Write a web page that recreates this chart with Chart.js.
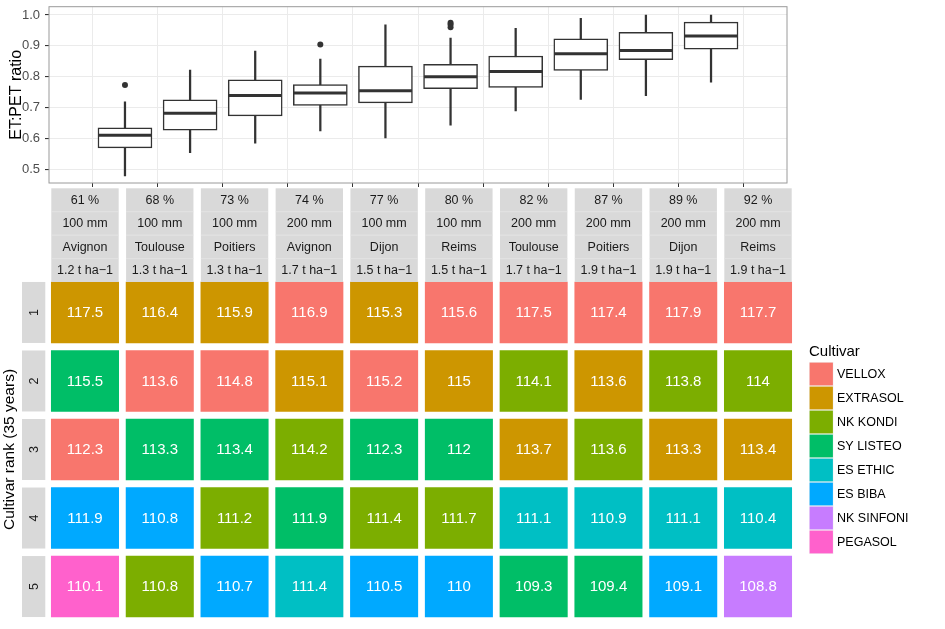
<!DOCTYPE html>
<html>
<head>
<meta charset="utf-8">
<script src="https://cdn.jsdelivr.net/npm/chart.js@4/dist/chart.umd.min.js"></script>
<style>
  html, body { margin: 0; padding: 0; background: #fff; }
  #wrap { position: relative; width: 945px; height: 629px; }
  #wrap canvas { position: absolute; left: 0; top: 0; }
</style>
</head>
<body>
<div id="wrap">
  <canvas id="boxChart" width="945" height="629"></canvas>
  <canvas id="rankChart" width="945" height="629"></canvas>
</div>
<script>
// strip labels, one entry per column
let ratioLabels = ['61 %', '68 %', '73 %', '74 %', '77 %', '80 %', '82 %', '87 %', '89 %', '92 %'];
let irrigationLabels = ['100 mm', '100 mm', '100 mm', '200 mm', '100 mm', '100 mm', '200 mm', '200 mm', '200 mm', '200 mm'];
let siteLabels = ['Avignon', 'Toulouse', 'Poitiers', 'Avignon', 'Dijon', 'Reims', 'Toulouse', 'Poitiers', 'Dijon', 'Reims'];
let yieldLabels = ['1.2 t ha\u22121', '1.3 t ha\u22121', '1.3 t ha\u22121', '1.7 t ha\u22121', '1.5 t ha\u22121',
                   '1.5 t ha\u22121', '1.7 t ha\u22121', '1.9 t ha\u22121', '1.9 t ha\u22121', '1.9 t ha\u22121'];

// ET:PET boxplot statistics per column
let whiskerLow  = [0.478, 0.553, 0.584, 0.624, 0.601, 0.643, 0.689, 0.726, 0.738, 0.782];
let lowerQuart  = [0.569, 0.626, 0.673, 0.707, 0.715, 0.761, 0.765, 0.820, 0.855, 0.889];
let medians     = [0.610, 0.681, 0.739, 0.747, 0.754, 0.800, 0.817, 0.874, 0.885, 0.932];
let upperQuart  = [0.634, 0.725, 0.790, 0.774, 0.834, 0.840, 0.867, 0.923, 0.944, 0.977];
let whiskerHigh = [0.718, 0.821, 0.883, 0.857, 0.968, 0.925, 0.957, 0.989, 1.000, 1.000];
let outlierColumn = [0, 3, 5, 5, 5];
let outlierValue  = [0.773, 0.904, 0.975, 0.969, 0.960];
let ratioTicks = [0.5, 0.6, 0.7, 0.8, 0.9, 1.0];

// cultivar rank table
let ranks = ['1', '2', '3', '4', '5'];
let rank1Values = [117.5, 116.4, 115.9, 116.9, 115.3, 115.6, 117.5, 117.4, 117.9, 117.7];
let rank2Values = [115.5, 113.6, 114.8, 115.1, 115.2, 115, 114.1, 113.6, 113.8, 114];
let rank3Values = [112.3, 113.3, 113.4, 114.2, 112.3, 112, 113.7, 113.6, 113.3, 113.4];
let rank4Values = [111.9, 110.8, 111.2, 111.9, 111.4, 111.7, 111.1, 110.9, 111.1, 110.4];
let rank5Values = [110.1, 110.8, 110.7, 111.4, 110.5, 110, 109.3, 109.4, 109.1, 108.8];
let rank1Cultivars = ['EXTRASOL', 'EXTRASOL', 'EXTRASOL', 'VELLOX', 'EXTRASOL', 'VELLOX', 'VELLOX', 'VELLOX', 'VELLOX', 'VELLOX'];
let rank2Cultivars = ['SY LISTEO', 'VELLOX', 'VELLOX', 'EXTRASOL', 'VELLOX', 'EXTRASOL', 'NK KONDI', 'EXTRASOL', 'NK KONDI', 'NK KONDI'];
let rank3Cultivars = ['VELLOX', 'SY LISTEO', 'SY LISTEO', 'NK KONDI', 'SY LISTEO', 'SY LISTEO', 'EXTRASOL', 'NK KONDI', 'EXTRASOL', 'EXTRASOL'];
let rank4Cultivars = ['ES BIBA', 'ES BIBA', 'NK KONDI', 'SY LISTEO', 'NK KONDI', 'NK KONDI', 'ES ETHIC', 'ES ETHIC', 'ES ETHIC', 'ES ETHIC'];
let rank5Cultivars = ['PEGASOL', 'NK KONDI', 'ES BIBA', 'ES ETHIC', 'ES BIBA', 'ES BIBA', 'SY LISTEO', 'SY LISTEO', 'ES BIBA', 'NK SINFONI'];

let cultivars = ['VELLOX', 'EXTRASOL', 'NK KONDI', 'SY LISTEO', 'ES ETHIC', 'ES BIBA', 'NK SINFONI', 'PEGASOL'];
let cultivarColors = ['#F8766D', '#CD9600', '#7CAE00', '#00BE67', '#00BFC4', '#00A9FF', '#C77CFF', '#FF61CC'];

const FONT = 'Liberation Sans, Arial, Helvetica, sans-serif';
const DARK = '#333333';

// ---------- top panel: boxplots ----------
let columnIdx = medians.map((m, i) => i);

let medianPlugin = {
    id: 'medianLines',
    afterDatasetsDraw(chart) {
        let ctx = chart.ctx;
        let y = chart.scales.y;
        let boxes = chart.getDatasetMeta(0).data;
        ctx.save();
        ctx.strokeStyle = DARK;
        ctx.lineWidth = 3;
        boxes.forEach((el, i) => {
            let py = y.getPixelForValue(medians[i]);
            ctx.beginPath();
            ctx.moveTo(el.x - el.width / 2 + 0.5, py);
            ctx.lineTo(el.x + el.width / 2 - 0.5, py);
            ctx.stroke();
        });
        let a = chart.chartArea;
        ctx.strokeStyle = '#9a9a9a';
        ctx.lineWidth = 1;
        ctx.strokeRect(a.left, a.top, a.right - a.left, a.bottom - a.top);
        ctx.restore();
    }
};

new Chart(document.getElementById('boxChart'), {
    type: 'bar',
    data: {
        datasets: [{
            label: 'box',
            data: columnIdx.map(i => ({x: i, y: [lowerQuart[i], upperQuart[i]]})),
            backgroundColor: '#ffffff',
            borderColor: DARK,
            borderWidth: 1.5,
            borderSkipped: false,
            barThickness: 54,
            grouped: false
        }, {
            label: 'whisker',
            data: columnIdx.map(i => ({x: i, y: [whiskerLow[i], whiskerHigh[i]]})),
            backgroundColor: DARK,
            borderWidth: 0,
            barThickness: 1.6,
            grouped: false
        }, {
            type: 'scatter',
            label: 'outliers',
            data: outlierColumn.map((c, k) => ({x: c, y: outlierValue[k]})),
            backgroundColor: DARK,
            borderColor: DARK,
            pointRadius: 3,
            borderWidth: 0
        }]
    },
    options: {
        responsive: false,
        animation: false,
        layout: {padding: {top: 6.7, right: 158, bottom: 439, left: 0}},
        plugins: {legend: {display: false}, tooltip: {enabled: false}},
        scales: {
            x: {
                type: 'linear',
                min: -0.6,
                max: 9.6,
                afterBuildTicks: s => { s.ticks = columnIdx.map(v => ({value: v})); },
                afterFit: s => { s.height = 7; s.paddingLeft = 0; s.paddingRight = 0; },
                ticks: {display: false},
                grid: {color: '#ebebeb', lineWidth: 1, tickColor: DARK, tickLength: 4, drawTicks: true},
                border: {display: false}
            },
            y: {
                min: 0.455,
                max: 1.027,
                afterBuildTicks: s => {
                    let t = [];
                    ratioTicks.forEach(v => { t.push({value: v}); if (v < 1) t.push({value: v + 0.05, minor: true}); });
                    s.ticks = t;
                },
                afterFit: s => { s.width = 49; s.paddingTop = 0; s.paddingBottom = 0; },
                ticks: {
                    font: {family: FONT, size: 13},
                    color: '#4d4d4d',
                    padding: 5,
                    callback: function (v, i, ticks) { return ticks[i].minor ? '' : v.toFixed(1); }
                },
                grid: {
                    color: c => (c.tick && c.tick.minor) ? '#f5f5f5' : '#ebebeb',
                    lineWidth: c => (c.tick && c.tick.minor) ? 0.6 : 1.1,
                    tickColor: c => (c.tick && c.tick.minor) ? 'rgba(0,0,0,0)' : DARK,
                    tickLength: 4
                },
                border: {display: false},
                title: {display: true, text: 'ET:PET ratio', font: {family: FONT, size: 16}, color: '#000', padding: {top: 7, bottom: 0}}
            }
        }
    },
    plugins: [medianPlugin]
});

// ---------- bottom panel: cultivar ranks ----------
let rankValues = [rank1Values, rank2Values, rank3Values, rank4Values, rank5Values];
let rankCultivars = [rank1Cultivars, rank2Cultivars, rank3Cultivars, rank4Cultivars, rank5Cultivars];
const GAP = 0.0495;

function colorOf(name) { return cultivarColors[cultivars.indexOf(name)]; }

let rankDatasets = siteLabels.map((s, i) => ({
    label: s,
    data: ranks.map(() => [i + GAP, i + 1 - GAP]),
    backgroundColor: ranks.map((r, k) => colorOf(rankCultivars[k][i])),
    borderWidth: 0,
    barThickness: 61,
    grouped: false
}));

let stripPlugin = {
    id: 'strips',
    afterDatasetsDraw(chart) {
        let ctx = chart.ctx;
        let x = chart.scales.x;
        let y = chart.scales.y;
        ctx.save();
        // tile values
        ctx.fillStyle = '#ffffff';
        ctx.font = '15px ' + FONT;
        ctx.textAlign = 'center';
        ctx.textBaseline = 'middle';
        chart.data.datasets.forEach((ds, i) => {
            chart.getDatasetMeta(i).data.forEach((el, k) => {
                let p = el.getCenterPoint();
                ctx.fillText(String(rankValues[k][i]), p.x, p.y + 0.5);
            });
        });
        // column strips
        let stripRows = [ratioLabels, irrigationLabels, siteLabels, yieldLabels];
        let top = 188.3, h = 23.42;
        ctx.font = '12.5px ' + FONT;
        siteLabels.forEach((s, i) => {
            let l = x.getPixelForValue(i + GAP);
            let r = x.getPixelForValue(i + 1 - GAP);
            stripRows.forEach((row, j) => {
                ctx.fillStyle = '#d9d9d9';
                ctx.fillRect(l, top + j * h, r - l, h);
                if (j > 0) {
                    ctx.fillStyle = '#e2e2e2';
                    ctx.fillRect(l, top + j * h - 0.5, r - l, 1);
                }
                ctx.fillStyle = '#1a1a1a';
                ctx.fillText(row[i], (l + r) / 2, top + j * h + h / 2 + 0.5);
            });
        });
        // row strips
        ranks.forEach((r, k) => {
            let cy = y.getPixelForValue(k);
            ctx.fillStyle = '#d9d9d9';
            ctx.fillRect(22, cy - 30.5, 23.3, 61);
            ctx.save();
            ctx.translate(33.6, cy);
            ctx.rotate(-Math.PI / 2);
            ctx.fillStyle = '#1a1a1a';
            ctx.fillText(r, 0, 0.5);
            ctx.restore();
        });
        // axis title
        ctx.save();
        ctx.translate(10, (chart.chartArea.top + chart.chartArea.bottom) / 2);
        ctx.rotate(-Math.PI / 2);
        ctx.fillStyle = '#000';
        ctx.font = '15.5px ' + FONT;
        ctx.fillText('Cultivar rank (35 years)', 0, 0);
        ctx.restore();
        // legend
        ctx.textAlign = 'left';
        ctx.fillStyle = '#000';
        ctx.font = '15px ' + FONT;
        ctx.fillText('Cultivar', 809, 352);
        ctx.font = '12.5px ' + FONT;
        cultivars.forEach((c, k) => {
            let ky = 362 + k * 24;
            ctx.fillStyle = '#f2f2f2';
            ctx.fillRect(809, ky, 24.5, 24);
            ctx.fillStyle = cultivarColors[k];
            ctx.fillRect(809.6, ky + 0.6, 23.3, 22.8);
            ctx.fillStyle = '#000';
            ctx.fillText(c, 837, ky + 12.5);
        });
        ctx.restore();
    }
};

new Chart(document.getElementById('rankChart'), {
    type: 'bar',
    data: {labels: ranks, datasets: rankDatasets},
    options: {
        indexAxis: 'y',
        responsive: false,
        animation: false,
        layout: {padding: {top: 278.2, right: 149.6, bottom: 8.2, left: 47.6}},
        plugins: {legend: {display: false}, tooltip: {enabled: false}},
        scales: {
            x: {type: 'linear', min: 0, max: 10, display: false},
            y: {type: 'category', display: false}
        }
    },
    plugins: [stripPlugin]
});
</script>
</body>
</html>
